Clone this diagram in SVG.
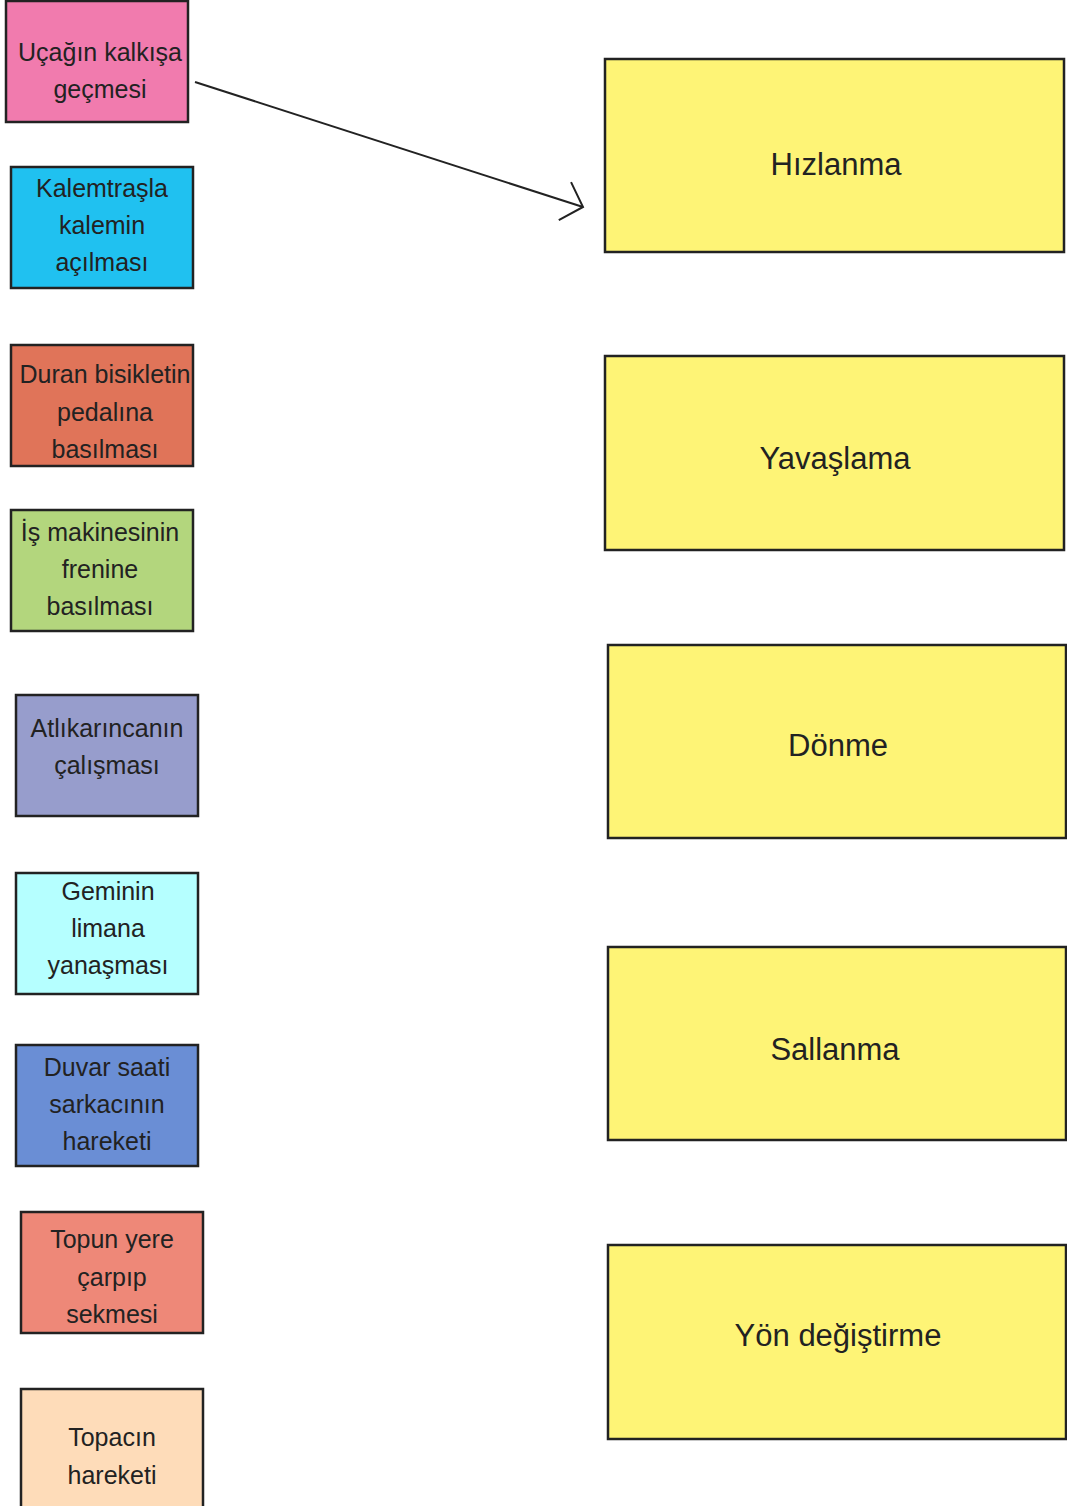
<svg xmlns="http://www.w3.org/2000/svg" width="1067" height="1506" viewBox="0 0 1067 1506">
<style>
rect{stroke:#222;stroke-width:2.5}
text{font-family:"Liberation Sans",Arial,sans-serif;fill:#222;text-anchor:middle}
.s{font-size:25px}
.b{font-size:31px}
.y{fill:#FEF476}
</style>
<defs>
<marker id="ah" markerUnits="userSpaceOnUse" viewBox="-24 -24 28 48" refX="0" refY="0" markerWidth="28" markerHeight="48" orient="auto">
<path d="M-19,-20 L0,0 L-19,20" fill="none" stroke="#222" stroke-width="2"/>
</marker>
</defs>
<rect width="1067" height="1506" fill="#fff" style="stroke:none"/>
<g id="n1"><rect x="6" y="1" width="182" height="121" fill="#F17BAE"/><text class="s" x="100" y="61">Uçağın kalkışa</text><text class="s" x="100" y="98">geçmesi</text></g>
<g id="n2"><rect x="11" y="167" width="182" height="121" fill="#20C1F0"/><text class="s" x="102" y="197">Kalemtraşla</text><text class="s" x="102" y="234">kalemin</text><text class="s" x="102" y="271">açılması</text></g>
<g id="n3"><rect x="11" y="345" width="182" height="121" fill="#E07459"/><text class="s" x="105" y="383">Duran bisikletin</text><text class="s" x="105" y="421">pedalına</text><text class="s" x="105" y="458">basılması</text></g>
<g id="n4"><rect x="11" y="510" width="182" height="121" fill="#B3D67D"/><text class="s" x="100" y="541">İş makinesinin</text><text class="s" x="100" y="578">frenine</text><text class="s" x="100" y="615">basılması</text></g>
<g id="n5"><rect x="16" y="695" width="182" height="121" fill="#979DCC"/><text class="s" x="107" y="737">Atlıkarıncanın</text><text class="s" x="107" y="774">çalışması</text></g>
<g id="n6"><rect x="16" y="873" width="182" height="121" fill="#B5FFFF"/><text class="s" x="108" y="900">Geminin</text><text class="s" x="108" y="937">limana</text><text class="s" x="108" y="974">yanaşması</text></g>
<g id="n7"><rect x="16" y="1045" width="182" height="121" fill="#6A8ED5"/><text class="s" x="107" y="1076">Duvar saati</text><text class="s" x="107" y="1113">sarkacının</text><text class="s" x="107" y="1150">hareketi</text></g>
<g id="n8"><rect x="21" y="1212" width="182" height="121" fill="#EE8878"/><text class="s" x="112" y="1248">Topun yere</text><text class="s" x="112" y="1286">çarpıp</text><text class="s" x="112" y="1323">sekmesi</text></g>
<g id="n9"><rect x="21" y="1389" width="182" height="130" fill="#FEDCB9"/><text class="s" x="112" y="1446">Topacın</text><text class="s" x="112" y="1484">hareketi</text></g>
<g id="r1"><rect class="y" x="605" y="59" width="459" height="193"/><text class="b" x="836" y="175">Hızlanma</text></g>
<g id="r2"><rect class="y" x="605" y="356" width="459" height="194"/><text class="b" x="835" y="469">Yavaşlama</text></g>
<g id="r3"><rect class="y" x="608" y="645" width="458" height="193"/><text class="b" x="838" y="756">Dönme</text></g>
<g id="r4"><rect class="y" x="608" y="947" width="458" height="193"/><text class="b" x="835" y="1060">Sallanma</text></g>
<g id="r5"><rect class="y" x="608" y="1245" width="458" height="194"/><text class="b" x="838" y="1346">Yön değiştirme</text></g>
<g id="connectors"><line x1="195" y1="82" x2="583" y2="207" stroke="#222" stroke-width="2" marker-end="url(#ah)"/></g>
</svg>
